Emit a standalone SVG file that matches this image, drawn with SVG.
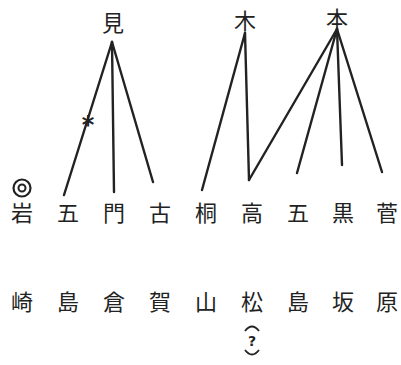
<svg xmlns="http://www.w3.org/2000/svg" width="401" height="365" viewBox="0 0 401 365">
<style>
text{font-family:"Noto Sans CJK JP","Noto Sans CJK SC",sans-serif;font-size:22px;fill:#222;text-anchor:middle}
.c line{stroke:#222;stroke-width:2.4;stroke-linecap:round}
</style>
<rect width="401" height="365" fill="#fff"/>
<g id="n-mi"><text x="113" y="31">見</text></g>
<g id="n-ki"><text x="245" y="29">木</text></g>
<g id="n-moto"><text x="337" y="27">本</text></g>
<g id="n-iwasaki"><circle cx="22" cy="188" r="8.5" fill="none" stroke="#222" stroke-width="2.2"/><circle cx="22" cy="188" r="3.5" fill="none" stroke="#222" stroke-width="2"/><text x="22" y="221">岩</text><text x="22" y="310">崎</text></g>
<g id="n-goshima1"><text x="68" y="221">五</text><text x="68" y="310">島</text></g>
<g id="n-kadokura"><text x="114" y="221">門</text><text x="114" y="310">倉</text></g>
<g id="n-koga"><text x="160" y="221">古</text><text x="160" y="310">賀</text></g>
<g id="n-kiriyama"><text x="206" y="221">桐</text><text x="206" y="310">山</text></g>
<g id="n-takamatsu"><text x="252" y="221">高</text><text x="252" y="310">松</text><path d="M245,331 Q252,322 259,331" fill="none" stroke="#222" stroke-width="1.8"/><text x="252" y="346" style="font-family:'DejaVu Sans',sans-serif;font-size:14px;font-weight:bold">?</text><path d="M245,350 Q252,359 259,350" fill="none" stroke="#222" stroke-width="1.8"/></g>
<g id="n-goshima2"><text x="298" y="221">五</text><text x="298" y="310">島</text></g>
<g id="n-kurosaka"><text x="343" y="221">黒</text><text x="343" y="310">坂</text></g>
<g id="n-sugawara"><text x="387" y="221">菅</text><text x="387" y="310">原</text></g>
<g class="c" id="connectors">
<line x1="112" y1="42" x2="64" y2="195"/>
<line x1="112" y1="42" x2="114" y2="192"/>
<line x1="112" y1="42" x2="153" y2="182"/>
<line x1="245" y1="33" x2="202" y2="190"/>
<line x1="245" y1="33" x2="249" y2="180"/>
<line x1="249" y1="180" x2="337" y2="29"/>
<line x1="337" y1="29" x2="297" y2="173"/>
<line x1="337" y1="29" x2="342" y2="165"/>
<line x1="337" y1="29" x2="382" y2="172"/>
<text x="88" y="133" style="font-family:'DejaVu Sans',sans-serif;font-size:24px;font-weight:bold">*</text>
</g>
</svg>
